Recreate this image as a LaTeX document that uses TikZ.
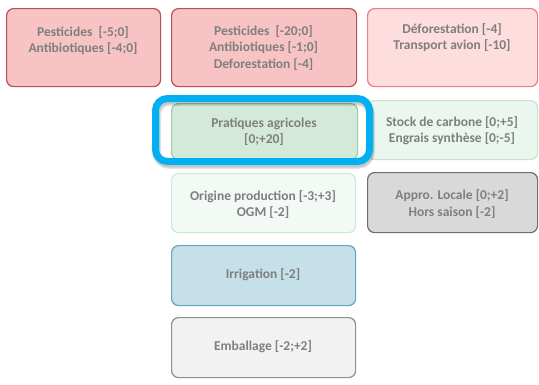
\documentclass[tikz,border=0pt]{standalone}
\usepackage{fontspec}
\setmainfont{Carlito}
\begin{document}
\begin{tikzpicture}[x=1pt,y=-1pt,
  box/.style={draw, line width=1.2pt, rounded corners=7pt, anchor=north west, inner sep=0pt},
  txt/.style={text=txtgray, font=\bfseries\fontsize{13.5}{16.5}\selectfont, align=center, inner sep=0pt}]
\definecolor{txtgray}{HTML}{7F7F7F}
\definecolor{redfill}{HTML}{F8C4C3}
\definecolor{redline}{HTML}{BC4F55}
\definecolor{pinkfill}{HTML}{FDDDDD}
\definecolor{pinkline}{HTML}{EF7B7E}
\definecolor{gfill}{HTML}{D3EADA}
\definecolor{gline}{HTML}{9DCBAA}
\definecolor{lgfill}{HTML}{EAF6EE}
\definecolor{lgline}{HTML}{C3E5CD}
\definecolor{vlgfill}{HTML}{F3FAF5}
\definecolor{vlgline}{HTML}{C9EAD3}
\definecolor{grfill}{HTML}{D9D9D9}
\definecolor{grline}{HTML}{6E6E6E}
\definecolor{bfill}{HTML}{C5E0E8}
\definecolor{bline}{HTML}{5FA7BF}
\definecolor{efill}{HTML}{F2F2F2}
\definecolor{eline}{HTML}{8E8E8E}
\definecolor{hiblue}{HTML}{00B0F0}
\useasboundingbox (0,0) rectangle (539,384);

% top row
\node[box, draw=redline, fill=redfill, minimum width=154, minimum height=78] (a) at (6,8) {};
\node[txt] (at) at (83,40.5) {Pesticides~ [-5;0]\\Antibiotiques [-4;0]};
\node[box, draw=redline, fill=redfill, minimum width=185, minimum height=78] (b) at (171,8) {};
\node[txt] (bt) at (263.5,48) {Pesticides~ [-20;0]\\Antibiotiques [-1;0]\\Deforestation [-4]};
\node[box, draw=pinkline, fill=pinkfill, minimum width=170, minimum height=78] (c) at (367,8) {};
\node[txt] (ct) at (452,37.5) {Déforestation [-4]\\Transport avion [-10]};

% second row
\node[box, draw=gline, fill=gfill, minimum width=186, minimum height=56] (p) at (171,103) {};
\node[txt] (pt) at (264,131.5) {Pratiques agricoles\\{}[0;+20]};
\node[box, draw=lgline, fill=lgfill, minimum width=170, minimum height=59] (s) at (367,100) {};
\node[txt] (st) at (452,130.5) {Stock de carbone [0;+5]\\Engrais synthèse [0;-5]};

% highlight frame with soft shadow
\draw[black, opacity=0.10, line width=9pt, rounded corners=13pt] (156.5,101.5) rectangle (370.5,164.5);
\draw[black, opacity=0.12, line width=7pt, rounded corners=12pt] (156.5,101) rectangle (370.5,164);
\draw[hiblue, line width=7pt, rounded corners=12pt] (155.5,98.5) rectangle (369.5,161.5);

% third row
\node[box, draw=vlgline, fill=vlgfill, minimum width=184, minimum height=59] (o) at (171,173) {};
\node[txt] (ot) at (263,204.5) {Origine production [-3;+3]\\OGM [-2]};
\node[box, draw=grline, fill=grfill, minimum width=170, minimum height=60] (ap) at (367,172) {};
\node[txt] (apt) at (452,204) {Appro. Locale [0;+2]\\Hors saison [-2]};

% lower rows
\node[box, draw=bline, fill=bfill, minimum width=184, minimum height=60] (i) at (171,245) {};
\node[txt] (it) at (263,275) {Irrigation [-2]};
\node[box, draw=eline, fill=efill, minimum width=184, minimum height=60] (e) at (171,317) {};
\node[txt] (et) at (263,347) {Emballage [-2;+2]};
\end{tikzpicture}
\end{document}
